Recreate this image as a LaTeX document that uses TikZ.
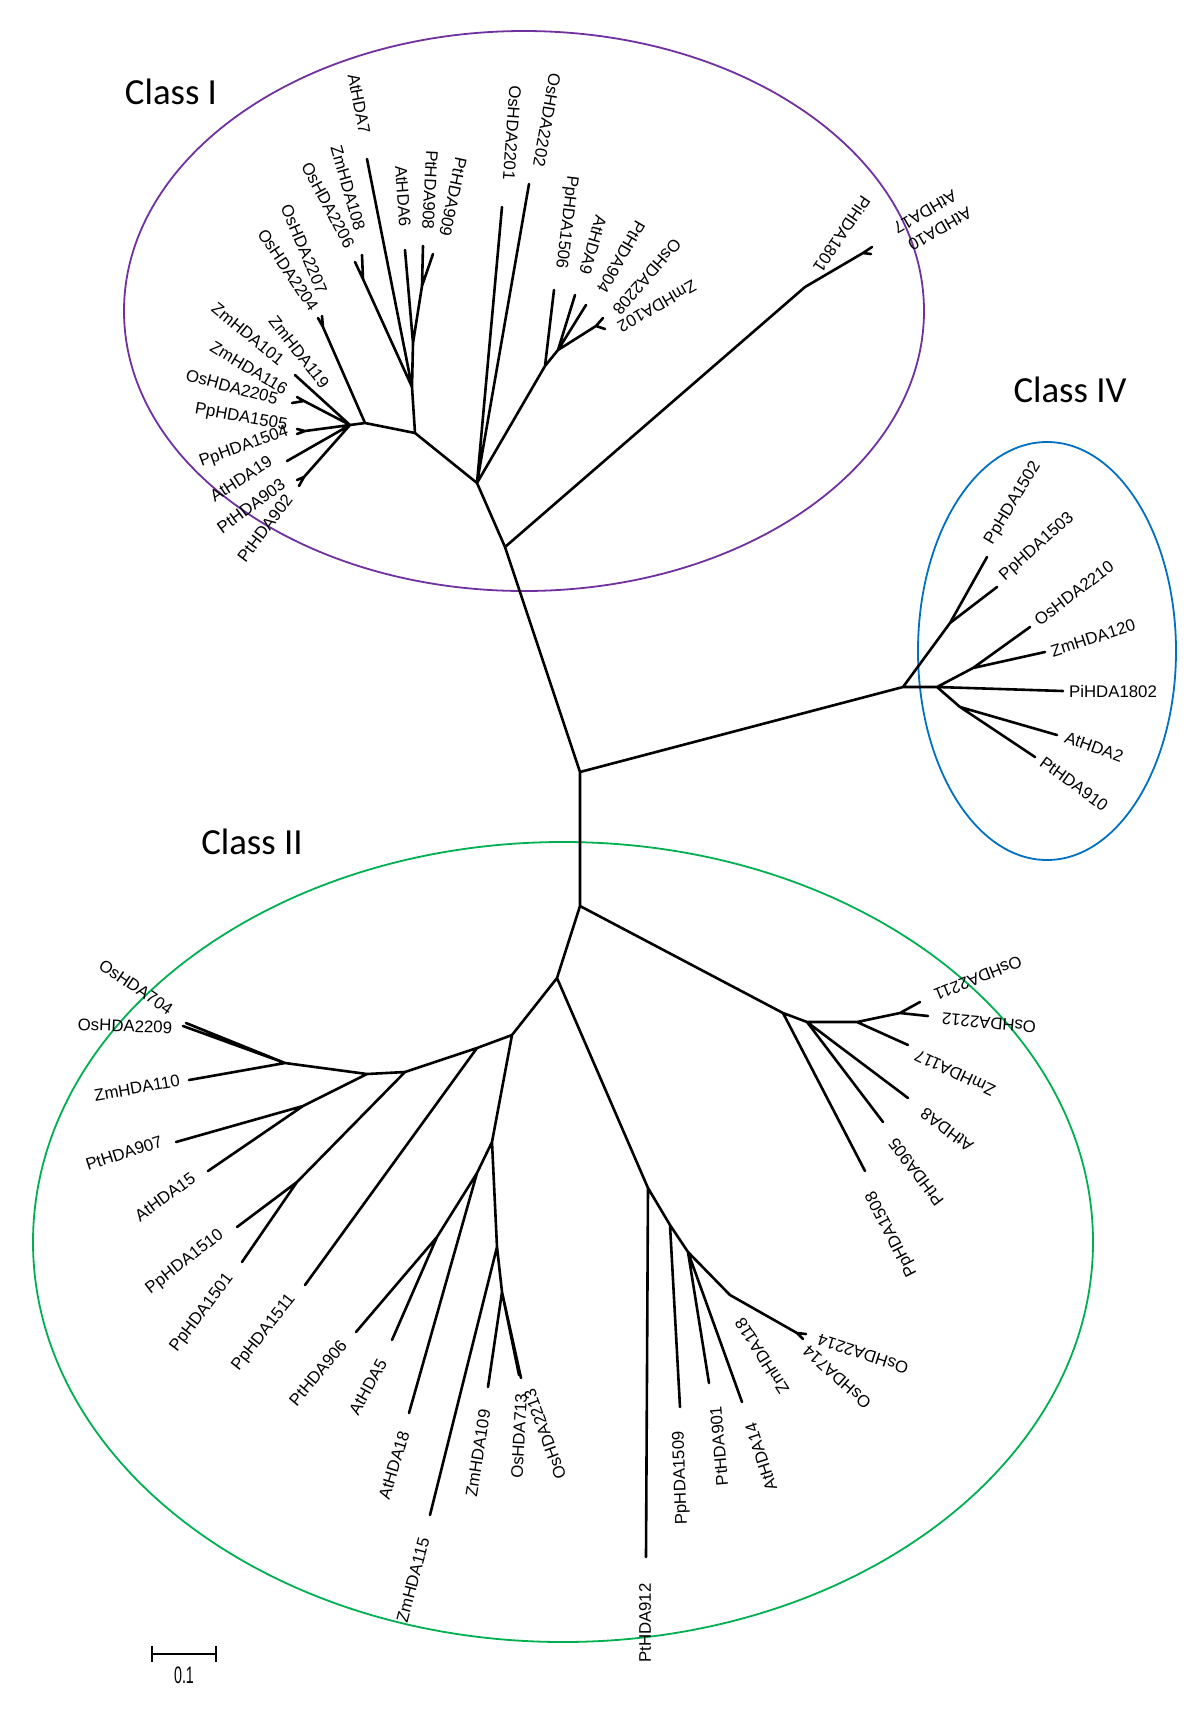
\documentclass[tikz,border=0pt]{standalone}
\usepackage{fontspec}
\setmainfont{Liberation Sans}
\newfontfamily\classfont{Carlito}
\usetikzlibrary{arrows.meta}
\definecolor{classI}{HTML}{7030A0}
\definecolor{classII}{HTML}{00B050}
\definecolor{classIV}{HTML}{0070C0}
\newcommand{\taxonsize}{\fontsize{8.4}{10}\selectfont}
\tikzset{branch/.style={line width=1.3pt, line cap=round, line join=round}, taxon/.style={font=\taxonsize, inner sep=0pt}, group/.style={line width=0.9pt}, classlbl/.style={font={\classfont\fontsize{18.4}{22}\selectfont}, inner sep=0pt}}

\begin{document}
\begin{tikzpicture}[x=0.5pt,y=-0.5pt]
\useasboundingbox (0,0) rectangle (1200,1720);

\draw[group, classI] (524,311) ellipse [x radius=400, y radius=280];
\draw[group, classIV] (1047,651) ellipse [x radius=129, y radius=209];
\draw[group, classII] (563,1242) ellipse [x radius=530, y radius=400];

\node[classlbl] (cI) at (171,92) {Class I};
\node[classlbl] (cIV) at (1070,390) {Class IV};
\node[classlbl] (cII) at (252,842) {Class II};

% inner nodes
\coordinate (R1) at (580,772);
\coordinate (R2) at (580,906);
\coordinate (B) at (505,547);
\coordinate (Y) at (477,483);
\coordinate (Z1) at (415,433);
\coordinate (AD) at (412,387);
\coordinate (AE) at (413,343);
\coordinate (AF) at (422,286);
\coordinate (AK) at (363,279);
\coordinate (AG) at (365,423);
\coordinate (AJ) at (323,327);
\coordinate (AH) at (350,425);
\coordinate (F2) at (304,401);
\coordinate (F3) at (305,431);
\coordinate (F4) at (304,477);
\coordinate (AA) at (545,366);
\coordinate (AB) at (558,350);
\coordinate (AC) at (596,326);
\coordinate (N18) at (805,287);
\coordinate (N18b) at (863,253);
\coordinate (CIV) at (903,687);
\coordinate (CIVa) at (950,623);
\coordinate (CIVb) at (937,687);
\coordinate (CIVc) at (973,668);
\coordinate (CIVd) at (960,707);
\coordinate (C) at (557,978);
\coordinate (D) at (512,1035);
\coordinate (E) at (477,1048);
\coordinate (E2) at (405,1072);
\coordinate (H) at (367,1074);
\coordinate (I) at (285,1063);
\coordinate (J) at (303,1106);
\coordinate (G) at (297,1182);
\coordinate (F) at (492,1142);
\coordinate (K) at (477,1173);
\coordinate (L) at (437,1237);
\coordinate (M) at (497,1247);
\coordinate (N) at (502,1292);
\coordinate (P) at (783,1013);
\coordinate (Q) at (807,1022);
\coordinate (S) at (857,1022);
\coordinate (T) at (900,1013);
\coordinate (U) at (648,1188);
\coordinate (V) at (670,1225);
\coordinate (W) at (688,1252);
\coordinate (X) at (730,1295);
\coordinate (XF) at (797,1333);

% tips
\coordinate (t-AtHDA7) at (367,159);
\coordinate (t-ZmHDA108) at (362,255);
\coordinate (t-OsHDA2206) at (355,262);
\coordinate (t-AtHDA6) at (405,250);
\coordinate (t-PtHDA908) at (423,246);
\coordinate (t-PtHDA909) at (433,254);
\coordinate (t-OsHDA2201) at (502,207);
\coordinate (t-OsHDA2202) at (529,184);
\coordinate (t-PpHDA1506) at (554,290);
\coordinate (t-AtHDA9) at (575,295);
\coordinate (t-PtHDA904) at (586,305);
\coordinate (t-OsHDA2208) at (603,318);
\coordinate (t-ZmHDA102) at (605,329);
\coordinate (t-AtHDA17) at (872,247);
\coordinate (t-AtHDA10) at (871,254);
\coordinate (t-OsHDA2204) at (318,318);
\coordinate (t-OsHDA2207) at (322,316);
\coordinate (t-ZmHDA101) at (295,375);
\coordinate (t-ZmHDA116) at (297,397);
\coordinate (t-OsHDA2205) at (292,403);
\coordinate (t-PpHDA1505) at (297,429);
\coordinate (t-PpHDA1504) at (297,434);
\coordinate (t-AtHDA19) at (287,461);
\coordinate (t-PtHDA903) at (297,480);
\coordinate (t-PtHDA902) at (299,486);
\coordinate (t-PpHDA1502) at (987,557);
\coordinate (t-PpHDA1503) at (997,587);
\coordinate (t-OsHDA2210) at (1030,627);
\coordinate (t-ZmHDA120) at (1045,652);
\coordinate (t-PiHDA1802) at (1063,691);
\coordinate (t-AtHDA2) at (1057,735);
\coordinate (t-PtHDA910) at (1035,757);
\coordinate (t-OsHDA2209) at (183,1026);
\coordinate (t-OsHDA704) at (186,1023);
\coordinate (t-ZmHDA110) at (189,1080);
\coordinate (t-PtHDA907) at (176,1142);
\coordinate (t-AtHDA15) at (208,1171);
\coordinate (t-PpHDA1510) at (237,1227);
\coordinate (t-PpHDA1501) at (242,1262);
\coordinate (t-PpHDA1511) at (305,1285);
\coordinate (t-PtHDA906) at (356,1332);
\coordinate (t-AtHDA5) at (392,1340);
\coordinate (t-AtHDA18) at (409,1413);
\coordinate (t-ZmHDA115) at (430,1515);
\coordinate (t-ZmHDA109) at (488,1387);
\coordinate (t-OsHDA713) at (519,1375);
\coordinate (t-OsHDA2213) at (521,1378);
\coordinate (t-OsHDA2211) at (920,1002);
\coordinate (t-OsHDA2212) at (928,1016);
\coordinate (t-ZmHDA117) at (908,1045);
\coordinate (t-AtHDA8) at (908,1098);
\coordinate (t-PtHDA905) at (883,1122);
\coordinate (t-PpHDA1508) at (865,1171);
\coordinate (t-PtHDA912) at (646,1557);
\coordinate (t-PpHDA1509) at (680,1407);
\coordinate (t-PtHDA901) at (709,1383);
\coordinate (t-AtHDA14) at (742,1402);
\coordinate (t-OsHDA2214) at (806,1334);
\coordinate (t-OsHDA714) at (803,1339);

\path[draw, branch]
 (R1) -- (R2) (R1) -- (B) (R1) -- (CIV)
 (B) -- (Y) (B) -- (N18) (N18) -- (N18b) (N18b) -- (t-AtHDA17) (N18b) -- (t-AtHDA10)
 (Y) -- (Z1) (Y) -- (t-OsHDA2201) (Y) -- (t-OsHDA2202) (Y) -- (AA)
 (AA) -- (t-PpHDA1506) (AA) -- (AB) (AB) -- (t-AtHDA9) (AB) -- (t-PtHDA904) (AB) -- (AC)
 (AC) -- (t-OsHDA2208) (AC) -- (t-ZmHDA102)
 (Z1) -- (AD) (AD) -- (t-AtHDA7) (AD) -- (AK) (AK) -- (t-ZmHDA108) (AK) -- (t-OsHDA2206)
 (AD) -- (AE) (AE) -- (t-AtHDA6) (AE) -- (AF) (AF) -- (t-PtHDA908) (AF) -- (t-PtHDA909)
 (Z1) -- (AG) (AG) -- (AJ) (AJ) -- (t-OsHDA2204) (AJ) -- (t-OsHDA2207) (AG) -- (AH)
 (AH) -- (t-ZmHDA101) (AH) -- (F2) (F2) -- (t-ZmHDA116) (F2) -- (t-OsHDA2205)
 (AH) -- (F3) (F3) -- (t-PpHDA1505) (F3) -- (t-PpHDA1504) (AH) -- (t-AtHDA19)
 (AH) -- (F4) (F4) -- (t-PtHDA903) (F4) -- (t-PtHDA902)
 (CIV) -- (CIVa) (CIVa) -- (t-PpHDA1502) (CIVa) -- (t-PpHDA1503) (CIV) -- (CIVb)
 (CIVb) -- (CIVc) (CIVc) -- (t-OsHDA2210) (CIVc) -- (t-ZmHDA120) (CIVb) -- (t-PiHDA1802)
 (CIVb) -- (CIVd) (CIVd) -- (t-AtHDA2) (CIVd) -- (t-PtHDA910)
 (R2) -- (C) (R2) -- (P) (C) -- (D) (C) -- (U)
 (D) -- (E) (E) -- (E2) (E2) -- (H) (H) -- (I) (I) -- (t-OsHDA2209) (I) -- (t-OsHDA704) (I) -- (t-ZmHDA110)
 (H) -- (J) (J) -- (t-PtHDA907) (J) -- (t-AtHDA15) (E2) -- (G) (G) -- (t-PpHDA1510) (G) -- (t-PpHDA1501)
 (E) -- (t-PpHDA1511) (D) -- (F) (F) -- (K) (K) -- (L) (L) -- (t-PtHDA906) (L) -- (t-AtHDA5) (K) -- (t-AtHDA18)
 (F) -- (M) (M) -- (t-ZmHDA115) (M) -- (N) (N) -- (t-ZmHDA109) (N) -- (t-OsHDA713) (N) -- (t-OsHDA2213)
 (P) -- (Q) (P) -- (t-PpHDA1508) (Q) -- (S) (Q) -- (t-AtHDA8) (Q) -- (t-PtHDA905)
 (S) -- (t-ZmHDA117) (S) -- (T) (T) -- (t-OsHDA2211) (T) -- (t-OsHDA2212)
 (U) -- (t-PtHDA912) (U) -- (V) (V) -- (t-PpHDA1509) (V) -- (W) (W) -- (t-PtHDA901) (W) -- (t-AtHDA14)
 (W) -- (X) (X) -- (XF) (XF) -- (t-OsHDA2214) (XF) -- (t-OsHDA714);

% class I
\node[taxon, rotate=-79] (AtHDA7) at (359,104) {AtHDA7};
\node[taxon, rotate=-74] (ZmHDA108) at (348,188) {ZmHDA108};
\node[taxon, rotate=-62] (OsHDA2206) at (328,205) {OsHDA2206};
\node[taxon, rotate=-67] (OsHDA2207) at (304,249) {OsHDA2207};
\node[taxon, rotate=-56] (OsHDA2204) at (288,270) {OsHDA2204};
\node[taxon, rotate=-86] (AtHDA6) at (403,196) {AtHDA6};
\node[taxon, rotate=-93] (PtHDA908) at (430,190) {PtHDA908};
\node[taxon, rotate=-102] (PtHDA909) at (453,197) {PtHDA909};
\node[taxon, rotate=-94] (OsHDA2201) at (512,133) {OsHDA2201};
\node[taxon, rotate=-100] (OsHDA2202) at (547,120) {OsHDA2202};
\node[taxon, rotate=-97] (PpHDA1506) at (566,222) {PpHDA1506};
\node[taxon, rotate=-106] (AtHDA9) at (593,245) {AtHDA9};
\node[taxon, rotate=-120] (PtHDA904) at (621,257) {PtHDA904};
\node[taxon, rotate=-131] (OsHDA2208) at (647,277) {OsHDA2208};
\node[taxon, rotate=-150] (ZmHDA102) at (657,306) {ZmHDA102};
\node[taxon, rotate=-124] (PiHDA1801) at (842,234) {PiHDA1801};
\node[taxon, rotate=-150] (AtHDA17) at (925,212) {AtHDA17};
\node[taxon, rotate=-150] (AtHDA10) at (940,229) {AtHDA10};
\node[taxon, rotate=-39] (ZmHDA101) at (248,334) {ZmHDA101};
\node[taxon, rotate=-52] (ZmHDA119) at (299,352) {ZmHDA119};
\node[taxon, rotate=-31] (ZmHDA116) at (249,368) {ZmHDA116};
\node[taxon, rotate=-15] (OsHDA2205) at (232,387) {OsHDA2205};
\node[taxon, rotate=-10] (PpHDA1505) at (241,418) {PpHDA1505};
\node[taxon, rotate=20] (PpHDA1504) at (244,447) {PpHDA1504};
\node[taxon, rotate=33] (AtHDA19) at (241,479) {AtHDA19};
\node[taxon, rotate=36] (PtHDA903) at (251,506) {PtHDA903};
\node[taxon, rotate=53] (PtHDA902) at (265,528) {PtHDA902};

% class IV
\node[taxon, rotate=59] (PpHDA1502) at (1013,503) {PpHDA1502};
\node[taxon, rotate=42] (PpHDA1503) at (1037,547) {PpHDA1503};
\node[taxon, rotate=37] (OsHDA2210) at (1074,593) {OsHDA2210};
\node[taxon, rotate=18] (ZmHDA120) at (1093,638) {ZmHDA120};
\node[taxon] (PiHDA1802) at (1113,691) {PiHDA1802};
\node[taxon, rotate=-20] (AtHDA2) at (1094,747) {AtHDA2};
\node[taxon, rotate=-36] (PtHDA910) at (1074,784) {PtHDA910};

% class II
\node[taxon, rotate=-34] (OsHDA704) at (136,987) {OsHDA704};
\node[taxon, rotate=-2] (OsHDA2209) at (125,1026) {OsHDA2209};
\node[taxon, rotate=10] (ZmHDA110) at (137,1088) {ZmHDA110};
\node[taxon, rotate=18] (PtHDA907) at (124,1153) {PtHDA907};
\node[taxon, rotate=36] (AtHDA15) at (165,1197) {AtHDA15};
\node[taxon, rotate=38] (PpHDA1510) at (185,1262) {PpHDA1510};
\node[taxon, rotate=53] (PpHDA1501) at (202,1313) {PpHDA1501};
\node[taxon, rotate=52] (PpHDA1511) at (264,1333) {PpHDA1511};
\node[taxon, rotate=50] (PtHDA906) at (318,1373) {PtHDA906};
\node[taxon, rotate=61] (AtHDA5) at (368,1387) {AtHDA5};
\node[taxon, rotate=73] (AtHDA18) at (394,1465) {AtHDA18};
\node[taxon, rotate=75] (ZmHDA115) at (413,1580) {ZmHDA115};
\node[taxon, rotate=81] (ZmHDA109) at (478,1453) {ZmHDA109};
\node[taxon, rotate=87] (OsHDA713) at (519,1436) {OsHDA713};
\node[taxon, rotate=110] (OsHDA2213) at (545,1434) {OsHDA2213};
\node[taxon, rotate=90] (PtHDA912) at (645,1623) {PtHDA912};
\node[taxon, rotate=92] (PpHDA1509) at (681,1478) {PpHDA1509};
\node[taxon, rotate=95] (PtHDA901) at (719,1446) {PtHDA901};
\node[taxon, rotate=108] (AtHDA14) at (761,1457) {AtHDA14};
\node[taxon, rotate=122] (ZmHDA118) at (762,1356) {ZmHDA118};
\node[taxon, rotate=162] (OsHDA2214) at (863,1354) {OsHDA2214};
\node[taxon, rotate=138] (OsHDA714) at (837,1377) {OsHDA714};
\node[taxon, rotate=117] (PpHDA1508) at (892,1234) {PpHDA1508};
\node[taxon, rotate=127] (PtHDA905) at (916,1172) {PtHDA905};
\node[taxon, rotate=143] (AtHDA8) at (947,1130) {AtHDA8};
\node[taxon, rotate=155] (ZmHDA117) at (955,1073) {ZmHDA117};
\node[taxon, rotate=175] (OsHDA2212) at (989,1023) {OsHDA2212};
\node[taxon, rotate=202] (OsHDA2211) at (978,978) {OsHDA2211};

% scale bar
\coordinate (sb1) at (151,1654);
\coordinate (sb2) at (217,1654);
\draw[line width=0.8pt, {Bar[width=8pt]}-{Bar[width=8pt]}] (sb1) -- (sb2);
\node[inner sep=0pt, font={\fontsize{11.9}{12}\selectfont}] (sbl) at (184,1675) {\scalebox{0.6}[1]{0.1}};
\end{tikzpicture}
\end{document}
